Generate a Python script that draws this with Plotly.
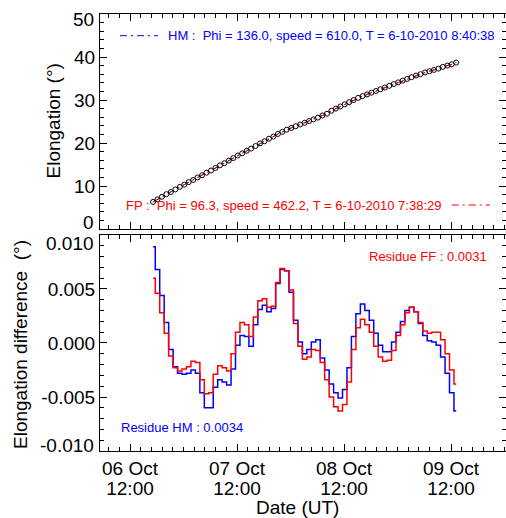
import pandas as pd
import plotly.graph_objects as go

# Hourly sample times of the tracked front
start_time = "2010-10-06 17:10"
n_points = 69
times = pd.date_range(start_time, periods=n_points, freq="1h")

# Observed elongation (degrees)
elongation = [6.3, 6.9, 7.5, 8.1, 8.6, 9.2, 9.8, 10.3, 10.9, 11.4,
              12.0, 12.5, 13.1, 13.6, 14.2, 14.8, 15.3, 15.9, 16.5, 17.1,
              17.6, 18.2, 18.7, 19.3, 19.9, 20.4, 21.0, 21.5, 22.1, 22.6,
              23.1, 23.5, 23.9, 24.3, 24.7, 25.1, 25.5, 25.9, 26.4, 26.8,
              27.5, 28.0, 28.5, 29.0, 29.5, 30.0, 30.5, 30.9, 31.3, 31.7,
              32.1, 32.5, 32.9, 33.3, 33.7, 34.1, 34.5, 34.9, 35.3, 35.7,
              36.0, 36.4, 36.7, 37.0, 37.3, 37.7, 38.0, 38.3, 38.7]

# Residuals (observed - fit) for the two geometric models (degrees)
resid_hm = [0.0089, 0.0068, 0.0044, 0.0019, -0.0006, -0.0022, -0.0028, -0.0029, -0.0028, -0.0025,
            -0.0028, -0.0046, -0.0060, -0.0060, -0.0041, -0.0034, -0.0036, -0.0039, -0.0024, -0.0002,
            0.0007, 0.0006, -0.0003, 0.0017, 0.0031, 0.0035, 0.0029, 0.0032, 0.0055, 0.0068,
            0.0067, 0.0047, 0.0021, 0.0001, -0.0010, -0.0006, 0.0001, 0.0003, -0.0014, -0.0025,
            -0.0038, -0.0046, -0.0051, -0.0043, -0.0023, 0.0006, 0.0027, 0.0036, 0.0030, 0.0021,
            0.0009, -0.0002, -0.0008, -0.0008, 0.0001, 0.0010, 0.0020, 0.0030, 0.0033, 0.0029,
            0.0018, 0.0007, 0.0002, 0.0001, -0.0002, -0.0013, -0.0028, -0.0046, -0.0063]
resid_fp = [0.0060, 0.0046, 0.0028, 0.0009, -0.0012, -0.0023, -0.0026, -0.0024, -0.0022, -0.0017,
            -0.0018, -0.0034, -0.0047, -0.0046, -0.0029, -0.0021, -0.0023, -0.0026, -0.0010, 0.0010,
            0.0019, 0.0017, 0.0006, 0.0024, 0.0039, 0.0041, 0.0033, 0.0034, 0.0056, 0.0069,
            0.0067, 0.0049, 0.0018, -0.0003, -0.0015, -0.0013, -0.0006, -0.0007, -0.0018, -0.0034,
            -0.0050, -0.0059, -0.0063, -0.0057, -0.0036, -0.0006, 0.0014, 0.0022, 0.0017, 0.0010,
            -0.0003, -0.0013, -0.0017, -0.0016, -0.0007, 0.0007, 0.0017, 0.0028, 0.0033, 0.0029,
            0.0019, 0.0011, 0.0009, 0.0010, 0.0010, 0.0003, -0.0010, -0.0025, -0.0038]

fit_hm = [e - r for e, r in zip(elongation, resid_hm)]
fit_fp = [e - r for e, r in zip(elongation, resid_fp)]

hm_label = "HM :\u00a0 Phi = 136.0, speed = 610.0, T = 6-10-2010 8:40:38"
fp_label = "FP :\u00a0 Phi = 96.3, speed = 462.2, T = 6-10-2010 7:38:29"
res_fp_label = "Residue FF : 0.0031"
res_hm_label = "Residue HM : 0.0034"

# y tick labels; the end labels are nudged inside their panel
elong_ticks = [10, 20, 30, 40]
elong_edge = [(0, "0", 7), (50, "50", -5)]
diff_ticks = [-0.005, 0.0, 0.005]
diff_tick_text = ["-0.005", "0.000", "0.005"]
diff_edge = [(-0.010, "-0.010", 6), (0.010, "0.010", -9)]

BLUE = "#0000ff"
RED = "#ff0000"
FONT = "Liberation Sans"
DASHDOT = "7px,4px,2px,4px"

x_range = ["2010-10-06 05:16:15", "2010-10-10 00:20:14"]
day_ms = 86400000

fig = go.Figure()

fig.add_trace(go.Scatter(x=times, y=fit_hm, mode="lines", xaxis="x", yaxis="y",
                         line=dict(color=BLUE, width=1, dash=DASHDOT), showlegend=False))
fig.add_trace(go.Scatter(x=times, y=fit_fp, mode="lines", xaxis="x", yaxis="y",
                         line=dict(color=RED, width=1, dash=DASHDOT), showlegend=False))
fig.add_trace(go.Scatter(x=times, y=elongation, mode="markers", xaxis="x", yaxis="y",
                         marker=dict(symbol="circle-open", size=5, color="black",
                                     line=dict(width=1, color="black")),
                         showlegend=False))

fig.add_trace(go.Scatter(x=times, y=resid_hm, mode="lines", xaxis="x2", yaxis="y2",
                         line=dict(color=BLUE, width=1.5, shape="hvh"), showlegend=False))
fig.add_trace(go.Scatter(x=times, y=resid_fp, mode="lines", xaxis="x2", yaxis="y2",
                         line=dict(color=RED, width=1.5, shape="hvh"), showlegend=False))
# carrier for the hour-of-day label axis
fig.add_trace(go.Scatter(x=times[:1], y=resid_hm[:1], mode="markers", xaxis="x3", yaxis="y2",
                         marker=dict(opacity=0), hoverinfo="skip", showlegend=False))

common_x = dict(type="date", range=x_range, showline=True, linecolor="black", linewidth=1,
                mirror="ticks", ticks="inside", ticklen=7, tickcolor="black", tickwidth=1,
                tick0="2010-10-06 12:00", dtick=day_ms, showgrid=False, zeroline=False,
                minor=dict(ticks="inside", ticklen=4, tickcolor="black", tickwidth=1,
                           tick0="2010-10-06 12:00", dtick=day_ms / 10, showgrid=False))
common_y = dict(showline=True, linecolor="black", linewidth=1, mirror="ticks",
                ticks="inside", ticklen=7, tickcolor="black", tickwidth=1,
                showgrid=False, zeroline=False,
                tickfont=dict(family=FONT, size=19, color="black"))

fig.update_layout(
    width=506, height=518,
    margin=dict(l=100, r=0, t=14, b=67),
    paper_bgcolor="white", plot_bgcolor="white",
    font=dict(family=FONT, size=19, color="black"),
    showlegend=False,
    xaxis=dict(common_x, anchor="y", domain=[0, 1], showticklabels=False),
    yaxis=dict(common_y, anchor="x", domain=[0.508, 1], range=[0, 50],
               tickvals=elong_ticks,
               minor=dict(ticks="inside", ticklen=4, tickcolor="black", dtick=2, showgrid=False)),
    xaxis2=dict(common_x, anchor="y2", domain=[0, 1], tickformat="%d %b",
                ticklabelstandoff=0,
                tickfont=dict(family=FONT, size=19, color="black")),
    xaxis3=dict(type="date", range=x_range, overlaying="x2", anchor="y2", side="bottom",
                showline=False, ticks="", showgrid=False, zeroline=False,
                tick0="2010-10-06 12:00", dtick=day_ms, tickformat="%H:%M",
                ticklabelstandoff=24,
                tickfont=dict(family=FONT, size=19, color="black")),
    yaxis2=dict(common_y, anchor="x2", domain=[0, 0.4943], range=[-0.010, 0.010],
                tickvals=diff_ticks, ticktext=diff_tick_text,
                minor=dict(ticks="inside", ticklen=4, tickcolor="black", dtick=0.001,
                           tick0=0, showgrid=False)),
)

W0, PW = 100.0, 406.0
B0, PH = 451.0, 437.0


def px(x):
    return (x - W0) / PW


def py(y):
    return (B0 - y) / PH


annotations = [
    dict(text=hm_label, x=px(166.7), y=py(35.7), xanchor="left", yanchor="middle",
         font=dict(family=FONT, size=13, color=BLUE)),
    dict(text=fp_label, x=px(442.7), y=py(205), xanchor="right", yanchor="middle",
         font=dict(family=FONT, size=13, color=RED)),
    dict(text=res_fp_label, x=px(488), y=py(256), xanchor="right", yanchor="middle",
         font=dict(family=FONT, size=13, color=RED)),
    dict(text=res_hm_label, x=px(120), y=py(427), xanchor="left", yanchor="middle",
         font=dict(family=FONT, size=13, color=BLUE)),
    dict(text="Elongation (°)", x=px(53), y=py(121.5), textangle=-90,
         xanchor="center", yanchor="middle", font=dict(family=FONT, size=19, color="black")),
    dict(text="Elongation difference\u00a0 (°)", x=px(20), y=py(345), textangle=-90,
         xanchor="center", yanchor="middle", font=dict(family=FONT, size=19, color="black")),
    dict(text="Date (UT)", x=px(297.5), y=py(508), xanchor="center", yanchor="middle",
         font=dict(family=FONT, size=19, color="black")),
]
for a in annotations:
    a.update(xref="paper", yref="paper")

# end-of-axis tick labels placed on the axis scale
for val, txt, shift in elong_edge:
    annotations.append(dict(text=txt, xref="paper", yref="y", x=px(94.5), y=val,
                            yshift=shift, xanchor="right", yanchor="middle",
                            font=dict(family=FONT, size=19, color="black")))
for val, txt, shift in diff_edge:
    annotations.append(dict(text=txt, xref="paper", yref="y2", x=px(94.5), y=val,
                            yshift=shift, xanchor="right", yanchor="middle",
                            font=dict(family=FONT, size=19, color="black")))

for a in annotations:
    a.update(showarrow=False, borderpad=0)
fig.update_layout(annotations=annotations)

fig.add_shape(type="line", xref="paper", yref="paper", x0=px(120), x1=px(158),
              y0=py(35.7), y1=py(35.7), line=dict(color=BLUE, width=1, dash=DASHDOT))
fig.add_shape(type="line", xref="paper", yref="paper", x0=px(451.7), x1=px(490),
              y0=py(205), y1=py(205), line=dict(color=RED, width=1, dash=DASHDOT))

fig.write_html("out.html")
